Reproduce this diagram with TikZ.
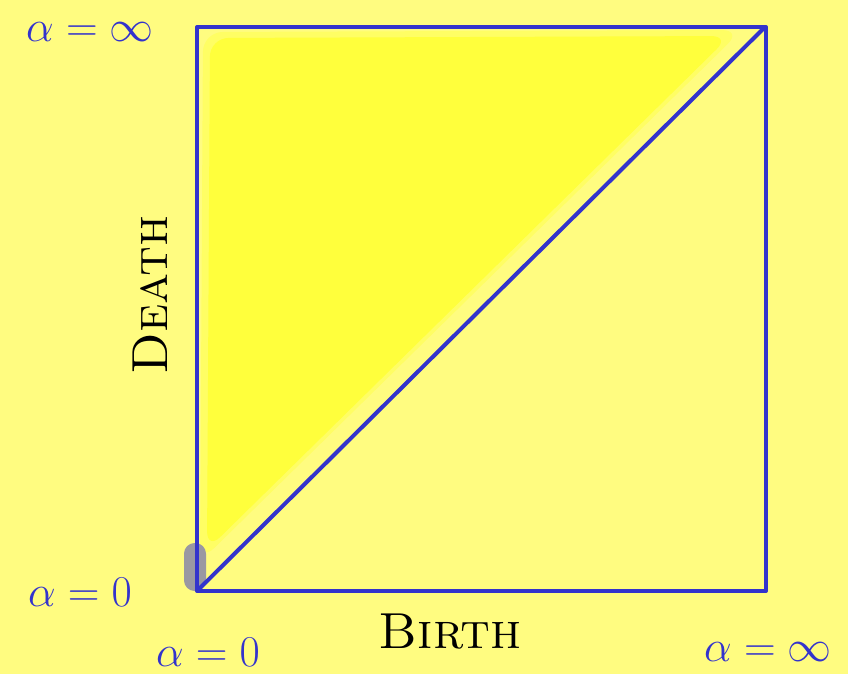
\RequirePackage{fix-cm}
\documentclass[tikz,border=0pt]{standalone}
\usepackage{tikz}
\usetikzlibrary{positioning}
\definecolor{paperyellow}{RGB}{255,252,128}
\definecolor{markeryellow}{RGB}{255,255,60}
\definecolor{rimyellow}{RGB}{255,254,100}
\definecolor{penblue}{RGB}{51,51,204}
\definecolor{pillgrey}{RGB}{154,152,162}

\begin{document}
\begin{tikzpicture}[x=0.75pt,y=-0.75pt,
  alphalabel/.style={text=penblue,inner sep=0pt,font=\fontsize{33}{33}\selectfont},
  axislabel/.style={text=black,inner sep=0pt,font=\fontsize{38}{38}\selectfont\scshape},
  penline/.style={penblue,line width=3pt,line join=round}]
\fill[paperyellow] (0,0) rectangle (848,674);
\useasboundingbox (0,0) rectangle (848,674);
\coordinate (origin) at (197,591);
\coordinate (topleft) at (197,27);
\coordinate (topright) at (766,27);
\coordinate (bottomright) at (766,591);
\coordinate (diagend) at (764,28);
\fill[rimyellow,rounded corners=15pt] (203,32) -- (742,30) -- (200,562) -- cycle;
\fill[markeryellow,rounded corners=14pt] (210,38) -- (730,36) -- (207,550) -- cycle;
\fill[pillgrey,rounded corners=8pt] (184,543) rectangle (206,591);
\draw[penline] (topleft) -- (topright) -- (bottomright) -- (origin) -- cycle;
\draw[penline] (origin) -- (diagend);
\node[alphalabel] (alphainftop) at (90,32) {$\alpha=\infty$};
\node[alphalabel] (alphazeroleft) at (80,592) {$\alpha=0$};
\node[alphalabel] (alphazerobottom) at (208,652) {$\alpha=0$};
\node[alphalabel] (alphainfbottom) at (768,652) {$\alpha=\infty$};
\node[axislabel,rotate=90] (death) at (150,295) {Death};
\node[axislabel] (birth) at (450,632) {Birth};
\end{tikzpicture}
\end{document}
